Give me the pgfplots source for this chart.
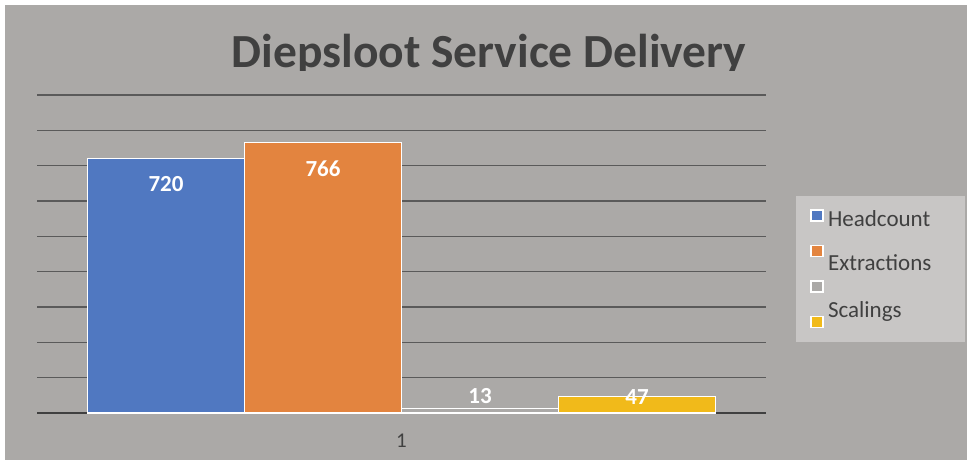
\documentclass[border=0pt]{standalone}
\usepackage{pgfplots}
\pgfplotsset{compat=1.18}
\usepackage{fontspec}
\setmainfont{Carlito}
\definecolor{bg}{HTML}{ABA9A7}
\definecolor{legbg}{HTML}{C8C6C5}
\definecolor{gridc}{HTML}{5A5A5A}
\definecolor{axc}{HTML}{404040}
\definecolor{cblue}{HTML}{5078C1}
\definecolor{corange}{HTML}{E3843F}
\definecolor{cgold}{HTML}{F1BA1A}
\begin{document}
\begin{tikzpicture}[x=1pt,y=1pt]
\fill[white] (0,0) rectangle (967,460);
\fill[bg] (5,0) rectangle (967,455);
\useasboundingbox (0,0) rectangle (967,460);
\begin{scope}
\clip (5,389.5) rectangle (967,455);
\node[anchor=base, text=axc, font=\fontsize{47.5}{50}\selectfont\bfseries, inner sep=0pt] at (489,392) {Diepsloot Service Delivery};
\end{scope}
\begin{axis}[
  at={(37pt,47pt)}, anchor=south west,
  width=729pt, height=318pt, scale only axis,
  /pgf/number format/assume math mode=true,
  ybar=0pt, bar width=157pt,
  xmin=0, xmax=2, ymin=0, ymax=900,
  xtick={1}, xticklabels={1},
  ytick={0,100,...,900}, yticklabels={},
  major tick length=0pt,
  ymajorgrids, grid style={gridc, line width=1.4pt},
  axis x line*=bottom, axis y line*=left,
  y axis line style={draw=none},
  x axis line style={axc, line width=2.6pt, -},
  xticklabel style={font=\fontsize{21}{24}\selectfont, text=axc, yshift=-17pt},
  clip=false,
  nodes near coords,
  every node near coord/.append style={font=\fontsize{23}{26}\selectfont\bfseries, text=white, anchor=center},
  legend style={at={(1.041,0.682)}, anchor=north west, fill=legbg, draw=none,
    font=\fontsize{23}{26}\selectfont, text=axc, row sep=0pt,
    nodes={inner sep=0pt, text height=26.5pt, text depth=9pt}},
  legend cell align=left,
  legend image code/.code={\path[draw=none, fill=none] (0pt,0pt) -- (25pt,0pt); \draw[#1, line width=1.2pt, draw=white] (12pt,-5pt) rectangle (24pt,6pt);},
]
\addplot[fill=cblue, draw=white, line width=1.5pt, every node near coord/.append style={yshift=-25pt}] coordinates {(1,720)};
\addplot[fill=corange, draw=white, line width=1.5pt, every node near coord/.append style={yshift=-26pt}] coordinates {(1,766)};
\addplot[fill=bg, draw=white, line width=1.5pt, every node near coord/.append style={yshift=12pt}] coordinates {(1,13)};
\addplot[fill=cgold, draw=white, line width=1.5pt, every node near coord/.append style={yshift=-1pt}] coordinates {(1,47)};
\legend{\raisebox{-2pt}[0pt][0pt]{\makebox[138pt][l]{\hspace{4pt}Headcount}},
        \raisebox{-10pt}[0pt][0pt]{\makebox[138pt][l]{\hspace{4pt}Extractions}},
        \mbox{},
        \raisebox{14pt}[0pt][0pt]{\makebox[138pt][l]{\hspace{4pt}Scalings}}}
\end{axis}
\end{tikzpicture}
\end{document}
